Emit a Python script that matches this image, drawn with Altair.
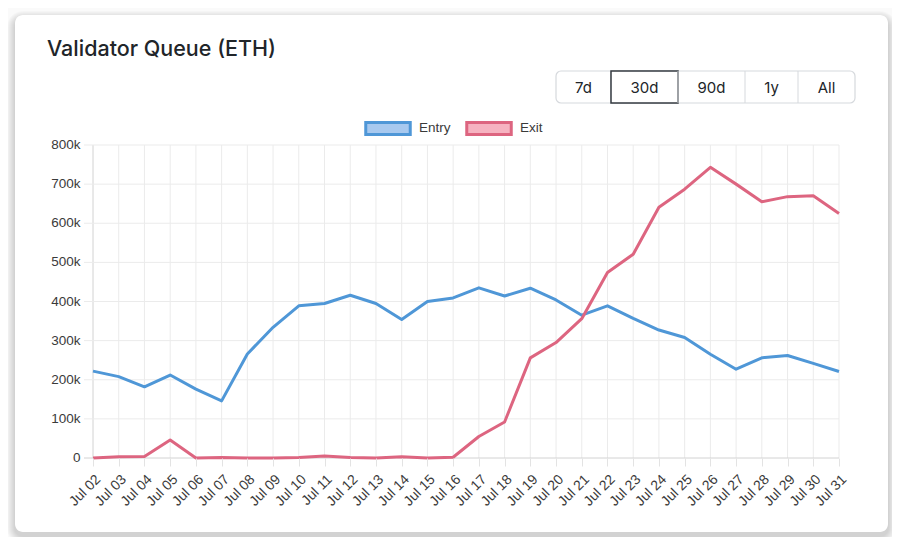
import altair as alt
import pandas as pd

# ---------------- data ----------------
days = ["Jul 02", "Jul 03", "Jul 04", "Jul 05", "Jul 06", "Jul 07", "Jul 08", "Jul 09",
        "Jul 10", "Jul 11", "Jul 12", "Jul 13", "Jul 14", "Jul 15", "Jul 16", "Jul 17",
        "Jul 18", "Jul 19", "Jul 20", "Jul 21", "Jul 22", "Jul 23", "Jul 24", "Jul 25",
        "Jul 26", "Jul 27", "Jul 28", "Jul 29", "Jul 30", "Jul 31"]
entry = [222000, 208000, 182000, 212000, 176000, 146000, 266000, 334000,
         389000, 395000, 416000, 395000, 354000, 400000, 409000, 435000,
         414000, 434000, 404000, 365000, 389000, 357000, 327000, 308000,
         265000, 227000, 256000, 262000, 242000, 221000]
exit_ = [0, 3000, 4000, 46000, 0, 1000, 0, 0,
         1000, 5000, 1000, 0, 3000, 0, 2000, 55000,
         92000, 256000, 295000, 356000, 474000, 521000, 641000, 687000,
         743000, 700000, 655000, 668000, 670000, 625000]
series = ["Entry", "Exit"]
y_ticks = [0, 100000, 200000, 300000, 400000, 500000, 600000, 700000, 800000]
buttons = ["7d", "30d", "90d", "1y", "All"]
selected_button = "30d"
title_text = "Validator Queue (ETH)"

# ---------------- styles ----------------
line_colors = ["#4f97d7", "#dd6580"]
fill_colors = ["#a8c9ef", "#f6b3c1"]
button_widths = [55, 67, 67, 53, 57]
FONT = "Liberation Sans"
W, H = 746, 313          # plot area
OX, OY = 93, 145         # plot origin on page
SVG_W, SVG_H = 884, 529

df = pd.DataFrame({
    "day": days * 2,
    "series": ["Entry"] * len(days) + ["Exit"] * len(days),
    "value": entry + exit_,
})
days_df = pd.DataFrame({"day": days})
ticks_df = pd.DataFrame({"v": y_ticks})
one = alt.Data(values=[{}])

xscale = alt.Scale(type="point", padding=0, domain=days)
yscale = alt.Scale(domain=[0, 800000], nice=False)
xaxis = alt.Axis(title=None, grid=False, domain=False, ticks=True, tickSize=8,
                 tickColor="#e3e3e3", labelAngle=-45, labelAlign="right",
                 labelBaseline="top", labelPadding=6, labelFont=FONT,
                 labelFontSize=14, labelColor="#3a3a3a", labelOverlap=False, zindex=1)


def px(x):
    return x - OX


def py(y):
    return y - OY


layers = []

# card shadow
for k in range(1, 9):
    layers.append(
        alt.Chart(one).mark_rect(color="#000000", opacity=0.018, cornerRadius=8 + k).encode(
            x=alt.value(px(15 - k)), x2=alt.value(px(888 + k)),
            y=alt.value(py(15 - k + 4)), y2=alt.value(py(532 + k + 4)))
    )
# card
layers.append(
    alt.Chart(one).mark_rect(color="#ffffff", cornerRadius=8).encode(
        x=alt.value(px(15)), x2=alt.value(px(888)),
        y=alt.value(py(15)), y2=alt.value(py(532)))
)
# title
layers.append(
    alt.Chart(one).mark_text(align="left", baseline="alphabetic", font="Inter",
                             fontSize=21.5, fontWeight=500, color="#212529").encode(
        x=alt.value(px(47)), y=alt.value(py(56)), text=alt.value(title_text))
)
# buttons
bx0, by0, by1 = 556, 71, 103
layers.append(
    alt.Chart(one).mark_rect(fill="#ffffff", stroke="#d6d9dd", strokeWidth=1.2,
                             cornerRadius=5).encode(
        x=alt.value(px(bx0)), x2=alt.value(px(bx0 + sum(button_widths))),
        y=alt.value(py(by0)), y2=alt.value(py(by1)))
)
cx = bx0
for lab, w in zip(buttons, button_widths):
    if cx > bx0:
        layers.append(
            alt.Chart(one).mark_rule(color="#d6d9dd", strokeWidth=1).encode(
                x=alt.value(px(cx)), y=alt.value(py(by0)), y2=alt.value(py(by1)))
        )
    if lab == selected_button:
        layers.append(
            alt.Chart(one).mark_rect(fill="#ffffff", stroke="#343a40", strokeWidth=1.5).encode(
                x=alt.value(px(cx)), x2=alt.value(px(cx + w)),
                y=alt.value(py(by0)), y2=alt.value(py(by1)))
        )
    layers.append(
        alt.Chart(one).mark_text(align="center", baseline="middle", font="Inter",
                                 fontSize=15, color="#212529").encode(
            x=alt.value(px(cx + w / 2)), y=alt.value(py((by0 + by1) / 2 + 1)),
            text=alt.value(lab))
    )
    cx += w

# vertical grid lines (first one a little darker, like an axis line)
layers.append(
    alt.Chart(days_df).mark_rule(strokeWidth=1).encode(
        x=alt.X("day:O", scale=xscale, axis=xaxis, sort=days),
        color=alt.condition(alt.datum.day == days[0], alt.value("#d2d2d2"), alt.value("#ebebeb")),
    )
)
# horizontal grid lines, extended to the left as tick marks
layers.append(
    alt.Chart(ticks_df).mark_rule(strokeWidth=1).encode(
        y=alt.Y("v:Q", scale=yscale, axis=None),
        x=alt.value(-9), x2=alt.value(W),
        color=alt.condition(alt.datum.v == 0, alt.value("#d2d2d2"), alt.value("#ebebeb")),
    )
)
# y tick labels
layers.append(
    alt.Chart(ticks_df).transform_calculate(
        lab="datum.v == 0 ? '0' : format(datum.v / 1000, 'd') + 'k'"
    ).mark_text(align="right", baseline="middle", font=FONT, fontSize=13.5,
                color="#3a3a3a").encode(
        y=alt.Y("v:Q", scale=yscale, axis=None),
        x=alt.value(-12.5),
        text="lab:N",
    )
)

legend_kw = dict(title=None, orient="none", legendX=px(365) - 1, legendY=py(127) - 23,
                 direction="horizontal", symbolType="M-1,-0.27L1,-0.27L1,0.27L-1,0.27Z",
                 symbolSize=1980, symbolStrokeWidth=3, symbolOpacity=1, padding=0,
                 labelFont=FONT, labelFontSize=13.5, labelColor="#3a3a3a",
                 labelOffset=7, columnPadding=9)

# lines
layers.append(
    alt.Chart(df).mark_line(strokeWidth=3, strokeJoin="round").encode(
        x=alt.X("day:O", scale=xscale, axis=xaxis, sort=days),
        y=alt.Y("value:Q", scale=yscale, axis=None),
        stroke=alt.Stroke("series:N", scale=alt.Scale(domain=series, range=line_colors),
                          legend=alt.Legend(**legend_kw)),
    )
)
layers.append(
    alt.Chart(df).mark_point(filled=True, size=0, opacity=1).encode(
        x=alt.X("day:O", scale=xscale, axis=xaxis, sort=days),
        y=alt.Y("value:Q", scale=yscale, axis=None),
        fill=alt.Fill("series:N", scale=alt.Scale(domain=series, range=fill_colors),
                      legend=alt.Legend(**legend_kw)),
    )
)

chart = alt.layer(*layers).properties(
    width=W, height=H,
    autosize=alt.AutoSizeParams(type="none"),
    padding={"left": OX - 8, "top": OY - 8, "right": SVG_W - (OX - 8) - W,
             "bottom": SVG_H - (OY - 8) - H},
    background="#fafafa",
).configure_view(stroke=None)

chart.save("out.html", embed_options={"renderer": "svg", "actions": False})
